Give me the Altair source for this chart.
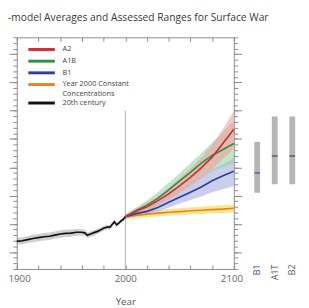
import altair as alt
import pandas as pd

# ---------------- data ----------------
hist_years = [1900, 1905, 1910, 1915, 1920, 1925, 1930, 1935, 1940, 1945, 1950, 1955,
              1960, 1963, 1965, 1968, 1970, 1975, 1980, 1983, 1986, 1988, 1990, 1992,
              1994, 1996, 1998, 2000]
hist_vals = [-0.62, -0.60, -0.56, -0.52, -0.49, -0.46, -0.44, -0.40, -0.36, -0.34, -0.33, -0.30,
             -0.30, -0.33, -0.41, -0.36, -0.33, -0.26, -0.16, -0.12, -0.12, -0.02, 0.07, -0.04,
             0.02, 0.10, 0.15, 0.25]
hist_hi = [-0.50, -0.48, -0.44, -0.39, -0.36, -0.33, -0.31, -0.27, -0.23, -0.21, -0.20, -0.18,
           -0.19, -0.22, -0.31, -0.26, -0.23, -0.17, -0.08, -0.04, -0.04, 0.05, 0.14, 0.04,
           0.09, 0.17, 0.21, 0.30]
hist_lo = [-0.74, -0.72, -0.68, -0.65, -0.62, -0.59, -0.57, -0.53, -0.49, -0.47, -0.46, -0.42,
           -0.41, -0.44, -0.51, -0.46, -0.43, -0.35, -0.24, -0.20, -0.20, -0.09, 0.00, -0.12,
           -0.05, 0.03, 0.09, 0.20]

proj_years = [2000, 2010, 2020, 2030, 2040, 2050, 2060, 2070, 2080, 2090, 2100]
a2_vals = [0.25, 0.44, 0.60, 0.82, 1.06, 1.34, 1.64, 1.98, 2.36, 2.85, 3.35]
a2_hi = [0.33, 0.55, 0.75, 0.98, 1.27, 1.60, 1.95, 2.35, 2.80, 3.35, 4.00]
a2_lo = [0.17, 0.33, 0.45, 0.64, 0.85, 1.08, 1.33, 1.62, 1.92, 2.30, 2.65]
a1b_vals = [0.25, 0.47, 0.66, 0.90, 1.20, 1.52, 1.82, 2.15, 2.42, 2.63, 2.84]
a1b_hi = [0.33, 0.58, 0.83, 1.12, 1.45, 1.78, 2.15, 2.50, 2.87, 3.25, 3.65]
a1b_lo = [0.17, 0.36, 0.50, 0.68, 0.90, 1.15, 1.40, 1.65, 1.85, 2.00, 2.15]
b1_vals = [0.25, 0.36, 0.44, 0.58, 0.76, 0.94, 1.12, 1.30, 1.52, 1.70, 1.86]
b1_hi = [0.33, 0.48, 0.62, 0.78, 1.00, 1.22, 1.45, 1.68, 1.92, 2.12, 2.32]
b1_lo = [0.17, 0.28, 0.35, 0.44, 0.57, 0.72, 0.84, 0.97, 1.12, 1.22, 1.34]
const_vals = [0.25, 0.30, 0.34, 0.38, 0.41, 0.43, 0.46, 0.48, 0.50, 0.52, 0.55]
const_hi = [0.33, 0.40, 0.45, 0.50, 0.53, 0.55, 0.58, 0.61, 0.64, 0.66, 0.69]
const_lo = [0.17, 0.20, 0.23, 0.26, 0.29, 0.31, 0.33, 0.35, 0.36, 0.38, 0.41]

scenarios = ["B1", "A1T", "B2"]
scen_low = [1.1, 1.4, 1.4]
scen_high = [2.9, 3.8, 3.8]
scen_best = [1.8, 2.4, 2.4]

divider_year = [2000]
divider_top = [4.0]

series_names = ["A2", "A1B", "B1", "Year 2000 Constant Concentrations", "20th century"]
line_colors = ["#d42a2f", "#2f8f46", "#2d3e9c", "#e8841e", "#111111"]
band_names = ["Year 2000 Constant Concentrations", "B1", "A1B", "A2"]
band_colors = ["#f3d54e", "#a9aede", "#98d4a3", "#f0a0a0"]

title_text = "-model Averages and Assessed Ranges for Surface War"

# ---------------- tables ----------------
proj = {
    "A2": (a2_vals, a2_lo, a2_hi),
    "A1B": (a1b_vals, a1b_lo, a1b_hi),
    "B1": (b1_vals, b1_lo, b1_hi),
    "Year 2000 Constant Concentrations": (const_vals, const_lo, const_hi),
}
band_rows = []
for name in band_names:
    v, lo, hi = proj[name]
    for yr, l, h in zip(proj_years, lo, hi):
        band_rows.append({"year": yr, "lo": l, "hi": h, "series": name})
band_df = pd.DataFrame(band_rows)
hist_band_df = pd.DataFrame({"year": hist_years, "lo": hist_lo, "hi": hist_hi})

line_rows = [{"year": yr, "val": v, "series": "20th century"} for yr, v in zip(hist_years, hist_vals)]
for name in ["Year 2000 Constant Concentrations", "B1", "A1B", "A2"]:
    v, lo, hi = proj[name]
    for yr, val in zip(proj_years, v):
        line_rows.append({"year": yr, "val": val, "series": name})
line_df = pd.DataFrame(line_rows)

rule_df = pd.DataFrame({"year": divider_year, "lo": [-1.6], "hi": divider_top})
bar_df = pd.DataFrame({"scenario": scenarios, "low": scen_low, "high": scen_high, "best": scen_best})

# ---------------- chart ----------------
W, H = 223, 238
AX = "#8a8a8a"
X = alt.Scale(domain=[1900, 2100], nice=False, zero=False)
Y = alt.Scale(domain=[-1.6, 6.6], nice=False, zero=False)
xt = list(range(1900, 2101, 20))
ymaj = list(range(-1, 7))
ymin = [round(-1.6 + 0.2 * i, 1) for i in range(42)]

ax_bottom = alt.Axis(orient="bottom", values=[1900, 2000, 2100], format="d", ticks=False,
                     domainColor=AX, labelFontSize=10, labelColor="#666", labelPadding=5,
                     labelFlush=True, labelFlushOffset=9,
                     title="Year", titleFontSize=10, titleFontWeight="normal", titleColor="#555",
                     titlePadding=13, grid=False)
ax_bottom_in = alt.Axis(orient="top", offset=-H, values=xt, labels=False, domain=False,
                        tickSize=4, tickColor=AX, title=None, grid=False)
ax_top = alt.Axis(orient="bottom", offset=-H, values=xt, labels=False, domainColor=AX,
                  tickSize=4, tickColor=AX, title=None, grid=False)
ax_lmaj = alt.Axis(orient="left", values=ymaj, labels=False, tickSize=8, tickColor=AX,
                   domainColor=AX, title=None, grid=False)
ax_lmin = alt.Axis(orient="left", values=ymin, labels=False, tickSize=4, tickColor=AX,
                   domain=False, title=None, grid=False)
ax_rmaj = alt.Axis(orient="right", values=ymaj, labels=False, tickSize=8, tickColor=AX,
                   domainColor=AX, title=None, grid=False)
ax_rmin = alt.Axis(orient="right", values=ymin, labels=False, tickSize=4, tickColor=AX,
                   domain=False, title=None, grid=False)

hist_band = alt.Chart(hist_band_df).mark_area(color="#a8a8a8", opacity=0.55).encode(
    x=alt.X("year:Q", scale=X, axis=ax_bottom),
    y=alt.Y("lo:Q", scale=Y, axis=ax_lmaj),
    y2="hi:Q",
)

bands = alt.Chart(band_df).mark_area(opacity=0.6).encode(
    x=alt.X("year:Q", scale=X, axis=ax_bottom_in),
    y=alt.Y("lo:Q", scale=Y, axis=ax_lmin),
    y2="hi:Q",
    fill=alt.Fill("series:N", scale=alt.Scale(domain=band_names, range=band_colors), legend=None),
)

divider = alt.Chart(rule_df).mark_rule(color="#999", strokeWidth=0.8).encode(
    x=alt.X("year:Q", scale=X, axis=ax_top),
    y=alt.Y("lo:Q", scale=Y, axis=ax_rmaj),
    y2="hi:Q",
)

label_expr = ("datum.label == 'Year 2000 Constant Concentrations' ? "
              "['Year 2000 Constant', 'Concentrations'] : datum.label")
lines = alt.Chart(line_df).mark_line(strokeWidth=1.7).encode(
    x=alt.X("year:Q", scale=X, axis=None),
    y=alt.Y("val:Q", scale=Y, axis=ax_rmin),
    stroke=alt.Stroke("series:N", scale=alt.Scale(domain=series_names, range=line_colors),
                      legend=alt.Legend(orient="none", legendX=20, legendY=7, title=None,
                                        symbolType="M-3.4,0L3.4,0", symbolSize=64,
                                        symbolStrokeWidth=3, labelFontSize=7.5,
                                        labelColor="#444", rowPadding=-1.5, labelOffset=16,
                                        labelExpr=label_expr)),
    order=alt.Order("year:Q"),
)

main = alt.layer(hist_band, bands, divider, lines).resolve_axis(
    x="independent", y="independent").properties(width=W, height=H)

bar_x = alt.X("scenario:N", sort=scenarios,
              scale=alt.Scale(domain=scenarios, paddingInner=0, paddingOuter=0),
              axis=alt.Axis(orient="bottom", offset=-5, labelAngle=270, labelAlign="right",
                            labelBaseline="middle", ticks=False, domain=False, title=None,
                            labelFontSize=9, labelPadding=0, labelOverlap=False,
                            labelColor={"condition": {"test": "datum.value == 'B1'",
                                                      "value": "#3b4ba8"},
                                        "value": "#555"}))
bars = alt.Chart(bar_df).mark_bar(size=6, color="#b5b5b5").encode(
    x=bar_x,
    y=alt.Y("low:Q", scale=Y, axis=None),
    y2="high:Q",
)
best = alt.Chart(bar_df).mark_tick(thickness=1.5, size=6).encode(
    x=bar_x,
    y=alt.Y("best:Q", scale=Y, axis=None),
    color=alt.Color("scenario:N", scale=alt.Scale(domain=scenarios,
                                                   range=["#2d3e9c", "#333", "#333"]),
                    legend=None),
)
side = alt.layer(bars, best).properties(width=54, height=H)

chart = alt.hconcat(main, side, spacing=6).properties(
    title=alt.Title(title_text, anchor="start", fontSize=10.5, fontWeight="normal",
                    color="#3a3a3a", offset=14),
    padding={"left": 0, "top": 1, "right": 0, "bottom": 0},
).configure(font="Open Sans", view=alt.ViewConfig(stroke=None))

chart.save("out.html", embed_options={"renderer": "svg", "actions": False})
